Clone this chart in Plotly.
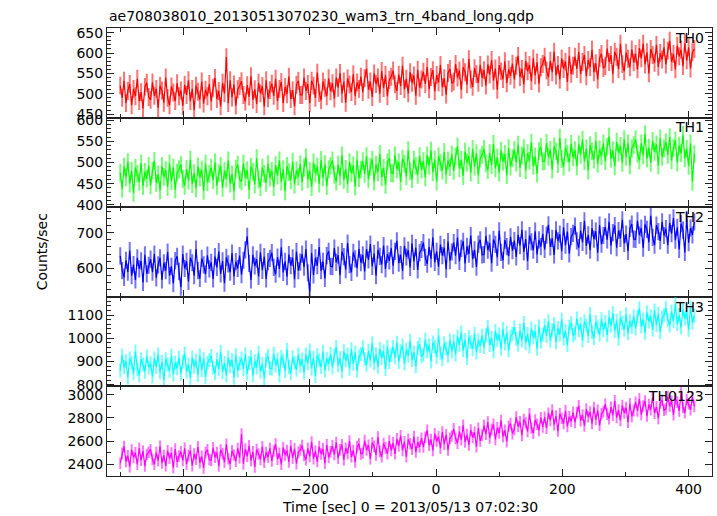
import numpy as np
import plotly.graph_objects as go
from plotly.subplots import make_subplots

# Time bins (sec from 2013/05/13 07:02:30)
T_START = -500
T_STEP = 3
N_BINS = 304

# Count rates (counts/sec)
th0 = [
    520, 490, 532, 477, 507, 524, 472, 512, 494, 537, 482, 504, 464, 517, 527, 492,
    485, 528, 495, 512, 465, 520, 508, 478, 540, 490, 472, 518, 503, 482, 526, 494,
    508, 470, 522, 497, 533, 482, 512, 460, 520, 505, 486, 530, 476, 510, 494, 524,
    481, 515, 539, 487, 507, 469, 527, 501, 590, 477, 533, 491, 523, 471, 511, 519,
    531, 497, 481, 521, 493, 543, 485, 511, 475, 527, 501, 519, 469, 533, 489, 509,
    525, 495, 537, 482, 512, 529, 477, 517, 499, 542, 487, 509, 469, 522, 532, 497,
    497, 540, 507, 524, 477, 532, 520, 490, 552, 502, 484, 530, 515, 494, 538, 506,
    526, 488, 540, 515, 551, 500, 530, 478, 538, 523, 504, 548, 494, 528, 512, 542,
    504, 538, 562, 510, 530, 492, 550, 524, 540, 500, 556, 514, 546, 494, 534, 542,
    557, 523, 507, 547, 519, 569, 511, 537, 501, 553, 527, 545, 495, 559, 515, 535,
    554, 524, 566, 511, 541, 558, 506, 546, 528, 571, 516, 538, 498, 551, 561, 526,
    530, 573, 540, 557, 510, 565, 553, 523, 585, 535, 517, 563, 548, 527, 571, 539,
    558, 520, 572, 547, 583, 532, 562, 510, 570, 555, 536, 580, 526, 560, 544, 574,
    535, 569, 593, 541, 561, 523, 581, 555, 571, 531, 587, 545, 577, 525, 565, 573,
    591, 557, 541, 581, 553, 603, 545, 571, 535, 587, 561, 579, 529, 593, 549, 569,
    591, 561, 603, 548, 578, 595, 543, 583, 565, 608, 553, 575, 535, 588, 598, 563,
    568, 611, 578, 595, 548, 603, 591, 561, 623, 573, 555, 601, 586, 565, 609, 577,
    598, 560, 612, 587, 623, 572, 602, 550, 610, 595, 576, 620, 566, 600, 584, 614,
    572, 606, 630, 578, 598, 560, 618, 592, 608, 568, 624, 582, 614, 562, 602, 610,
]
th1 = [
    476, 438, 490, 465, 501, 450, 480, 428, 488, 473, 454, 498, 444, 478, 462, 492,
    446, 480, 504, 452, 472, 434, 492, 466, 482, 442, 498, 456, 488, 436, 476, 484,
    495, 461, 445, 485, 457, 507, 449, 475, 439, 491, 465, 483, 433, 497, 453, 473,
    488, 458, 500, 445, 475, 492, 440, 480, 462, 505, 450, 472, 432, 485, 495, 460,
    455, 498, 465, 482, 435, 490, 478, 448, 510, 460, 442, 488, 473, 452, 496, 464,
    480, 442, 494, 469, 505, 454, 484, 432, 492, 477, 458, 502, 448, 482, 466, 496,
    454, 488, 512, 460, 480, 442, 500, 474, 490, 450, 506, 464, 496, 444, 484, 492,
    505, 471, 455, 495, 467, 517, 459, 485, 449, 501, 475, 493, 443, 507, 463, 483,
    503, 473, 515, 460, 490, 507, 455, 495, 477, 520, 465, 487, 447, 500, 510, 475,
    474, 517, 484, 501, 454, 509, 497, 467, 529, 479, 461, 507, 492, 471, 515, 483,
    503, 465, 517, 492, 528, 477, 507, 455, 515, 500, 481, 525, 471, 505, 489, 519,
    480, 514, 538, 486, 506, 468, 526, 500, 516, 476, 532, 490, 522, 470, 510, 518,
    532, 498, 482, 522, 494, 544, 486, 512, 476, 528, 502, 520, 470, 534, 490, 510,
    530, 500, 542, 487, 517, 534, 482, 522, 504, 547, 492, 514, 474, 527, 537, 502,
    503, 546, 513, 530, 483, 538, 526, 496, 558, 508, 490, 536, 521, 500, 544, 512,
    529, 491, 543, 518, 554, 503, 533, 481, 541, 526, 507, 551, 497, 531, 515, 545,
    503, 537, 561, 509, 529, 491, 549, 523, 539, 499, 555, 513, 545, 493, 533, 541,
    555, 521, 505, 545, 517, 567, 509, 535, 499, 551, 525, 543, 493, 557, 513, 533,
    548, 518, 560, 505, 535, 552, 500, 540, 522, 565, 510, 532, 492, 545, 455, 520,
]
th2 = [
    635, 594, 575, 623, 590, 650, 580, 611, 568, 630, 599, 621, 561, 638, 585, 609,
    626, 590, 640, 574, 610, 630, 568, 616, 594, 646, 580, 606, 558, 622, 634, 592,
    548, 640, 600, 620, 564, 630, 616, 580, 654, 594, 572, 628, 610, 584, 637, 599,
    617, 571, 633, 603, 647, 585, 621, 559, 631, 613, 590, 643, 578, 619, 600, 636,
    583, 623, 652, 690, 614, 568, 638, 607, 626, 578, 645, 595, 633, 571, 619, 628,
    644, 603, 584, 632, 599, 659, 589, 620, 577, 639, 608, 630, 570, 647, 594, 618,
    640, 604, 654, 588, 535, 644, 582, 630, 608, 660, 594, 620, 572, 636, 648, 606,
    605, 657, 617, 637, 581, 647, 633, 597, 671, 611, 589, 645, 627, 601, 654, 616,
    638, 592, 654, 624, 668, 606, 642, 580, 652, 634, 611, 664, 599, 640, 621, 657,
    608, 648, 677, 615, 639, 593, 663, 632, 651, 603, 670, 620, 658, 596, 644, 653,
    672, 631, 612, 660, 627, 687, 617, 648, 605, 667, 636, 658, 598, 675, 622, 646,
    672, 636, 686, 620, 656, 676, 614, 662, 640, 692, 626, 652, 604, 668, 680, 638,
    639, 691, 651, 671, 615, 681, 667, 631, 705, 645, 623, 679, 661, 635, 688, 650,
    678, 632, 694, 664, 708, 646, 682, 620, 692, 674, 651, 704, 639, 680, 661, 697,
    653, 693, 722, 660, 684, 638, 708, 677, 696, 648, 715, 665, 703, 641, 689, 698,
    718, 677, 658, 706, 673, 733, 663, 694, 651, 713, 682, 704, 644, 721, 668, 692,
    716, 680, 730, 664, 700, 720, 658, 706, 684, 736, 670, 696, 648, 712, 724, 682,
    681, 733, 693, 713, 657, 723, 709, 673, 747, 687, 665, 721, 703, 677, 730, 692,
    711, 665, 727, 697, 741, 679, 715, 653, 725, 707, 645, 737, 672, 713, 694, 730,
]
th3 = [
    861, 925, 875, 901, 831, 913, 895, 850, 943, 868, 841, 910, 887, 856, 922, 874,
    892, 835, 913, 876, 930, 853, 898, 820, 910, 888, 859, 925, 844, 895, 871, 916,
    848, 899, 935, 857, 887, 830, 917, 878, 902, 842, 926, 863, 911, 833, 893, 905,
    924, 873, 849, 909, 867, 942, 855, 894, 840, 918, 879, 906, 831, 927, 861, 891,
    913, 868, 931, 848, 894, 919, 841, 901, 874, 938, 856, 889, 829, 908, 924, 871,
    869, 933, 883, 909, 839, 921, 903, 858, 951, 876, 849, 918, 895, 864, 930, 882,
    909, 852, 930, 893, 947, 870, 915, 837, 927, 905, 876, 942, 861, 912, 888, 933,
    875, 926, 962, 884, 914, 857, 944, 905, 929, 869, 953, 890, 938, 860, 920, 932,
    961, 910, 886, 946, 904, 979, 892, 931, 877, 955, 916, 943, 868, 964, 898, 928,
    963, 918, 981, 898, 944, 969, 891, 951, 924, 988, 906, 939, 879, 958, 974, 921,
    930, 994, 944, 970, 900, 982, 964, 919, 1012, 937, 910, 979, 956, 925, 991, 943,
    987, 930, 1008, 971, 1025, 948, 993, 915, 1005, 983, 954, 1020, 939, 990, 966, 1011,
    962, 1013, 1049, 971, 1001, 944, 1031, 992, 1016, 956, 1040, 977, 1025, 947, 1007, 1019,
    1048, 997, 973, 1033, 991, 1066, 979, 1018, 964, 1042, 1003, 1030, 955, 1051, 985, 1015,
    1055, 1010, 1073, 990, 1036, 1061, 983, 1043, 1016, 1080, 998, 1031, 971, 1050, 1066, 1013,
    1021, 1085, 1035, 1061, 991, 1073, 1055, 1010, 1103, 1028, 1001, 1070, 1047, 1016, 1082, 1034,
    1070, 1013, 1091, 1054, 1108, 1031, 1076, 998, 1088, 1066, 1037, 1103, 1022, 1073, 1049, 1094,
    1042, 1093, 1129, 1051, 1081, 1024, 1111, 1072, 1096, 1036, 1120, 1057, 1105, 1027, 1087, 1099,
    1130, 1079, 1055, 1115, 1073, 1148, 1061, 1100, 1046, 1124, 1085, 1112, 1037, 1133, 1067, 1097,
]
th0123 = [
    2408, 2493, 2553, 2423, 2473, 2378, 2523, 2458, 2498, 2398, 2538, 2433, 2513, 2383, 2483, 2503,
    2525, 2440, 2400, 2500, 2430, 2555, 2410, 2475, 2385, 2515, 2450, 2495, 2370, 2530, 2420, 2470,
    2507, 2432, 2537, 2400, 2474, 2517, 2387, 2487, 2442, 2550, 2412, 2467, 2367, 2500, 2524, 2437,
    2433, 2541, 2459, 2501, 2383, 2521, 2491, 2416, 2571, 2446, 2401, 2516, 2479, 2426, 2536, 2456,
    2660, 2401, 2531, 2468, 2558, 2431, 2506, 2376, 2526, 2488, 2441, 2551, 2416, 2501, 2461, 2536,
    2428, 2513, 2573, 2443, 2493, 2398, 2543, 2478, 2518, 2418, 2558, 2453, 2533, 2403, 2503, 2523,
    2562, 2477, 2437, 2537, 2467, 2592, 2447, 2512, 2422, 2552, 2487, 2532, 2407, 2567, 2457, 2507,
    2558, 2483, 2588, 2451, 2525, 2568, 2438, 2538, 2493, 2601, 2463, 2518, 2418, 2551, 2575, 2488,
    2496, 2604, 2522, 2564, 2446, 2584, 2554, 2479, 2634, 2509, 2464, 2579, 2542, 2489, 2599, 2519,
    2584, 2489, 2619, 2556, 2646, 2519, 2594, 2464, 2614, 2576, 2529, 2639, 2504, 2589, 2549, 2624,
    2548, 2633, 2693, 2563, 2613, 2518, 2663, 2598, 2638, 2538, 2678, 2573, 2653, 2523, 2623, 2643,
    2706, 2621, 2581, 2681, 2611, 2736, 2591, 2656, 2566, 2696, 2631, 2676, 2551, 2711, 2601, 2651,
    2734, 2659, 2764, 2627, 2701, 2744, 2614, 2714, 2669, 2777, 2639, 2694, 2594, 2727, 2751, 2664,
    2699, 2807, 2725, 2767, 2649, 2787, 2757, 2682, 2837, 2712, 2667, 2782, 2745, 2692, 2802, 2722,
    2806, 2711, 2841, 2778, 2868, 2741, 2816, 2686, 2836, 2798, 2751, 2861, 2726, 2811, 2771, 2846,
    2761, 2846, 2906, 2776, 2826, 2731, 2876, 2811, 2851, 2751, 2891, 2786, 2866, 2736, 2836, 2856,
    2918, 2833, 2793, 2893, 2823, 2948, 2803, 2868, 2778, 2908, 2843, 2888, 2763, 2923, 2813, 2863,
    2936, 2861, 2966, 2829, 2903, 2946, 2816, 2916, 2871, 2979, 2841, 2896, 2796, 2929, 2953, 2866,
    2877, 2985, 2903, 2945, 2827, 2965, 2935, 2860, 3015, 2890, 2845, 2960, 2923, 2870, 2980, 2900,
]

# Typical 1-sigma error per band (counts/sec)
errors = [22, 21, 24, 30, 50]
band_names = ["TH0", "TH1", "TH2", "TH3", "TH0123"]
colors = ["#ff0000", "#00ff00", "#0000ff", "#00ffff", "#ff00ff"]
light_colors = ["rgba(255,0,0,0.55)", "rgba(0,255,0,0.55)", "rgba(0,0,255,0.55)",
                "rgba(0,255,255,0.55)", "rgba(255,0,255,0.55)"]
y_ranges = [[441.5, 661.5], [394.4, 606], [521, 771], [792.7, 1178.5], [2297, 3073]]
y_dticks = [50, 50, 100, 100, 200]
y_minor = [10, 10, 20, 20, 100]
x_range = [-521, 437]

title_text = "ae708038010_20130513070230_wam3_trn_4band_long.qdp"
x_title = "Time [sec] 0 = 2013/05/13 07:02:30"
y_title = "Counts/sec"

times = T_START + T_STEP * np.arange(N_BINS)
series = [th0, th1, th2, th3, th0123]

FONT = "DejaVu Sans"
AX = "#222222"
fig = make_subplots(rows=5, cols=1, shared_xaxes=False, vertical_spacing=0)

for i, vals in enumerate(series):
    fig.add_trace(go.Scatter(
        x=times, y=vals, mode="lines",
        line=dict(color=colors[i], width=1.2),
        error_y=dict(type="constant", value=errors[i], color=light_colors[i],
                     thickness=2, width=0),
        showlegend=False, hoverinfo="skip"), row=i + 1, col=1)
    fig.update_yaxes(
        range=y_ranges[i], dtick=y_dticks[i], tick0=0,
        ticks="inside", ticklen=7, tickwidth=1, tickcolor=AX,
        minor=dict(dtick=y_minor[i], tick0=0, ticks="inside", ticklen=4,
                   tickcolor=AX, showgrid=False),
        showline=True, linecolor=AX, linewidth=1, mirror="ticks",
        showgrid=False, zeroline=False, automargin=False,
        tickfont=dict(family=FONT, size=14, color="black"),
        row=i + 1, col=1)
    fig.update_xaxes(
        range=x_range, dtick=200, tick0=0,
        ticks="inside", ticklen=7, tickwidth=1, tickcolor=AX,
        minor=dict(dtick=100, tick0=0, ticks="inside", ticklen=4,
                   tickcolor=AX, showgrid=False),
        showline=True, linecolor=AX, linewidth=1, mirror="ticks",
        showgrid=False, zeroline=False, automargin=False,
        showticklabels=(i == 4),
        tickfont=dict(family=FONT, size=14, color="black"),
        row=i + 1, col=1)

# panel labels
for i, name in enumerate(band_names):
    top = 1 - 0.2 * i
    fig.add_annotation(text=name, xref="paper", yref="paper",
                       x=0.99, y=top - 0.022, xanchor="right", yanchor="middle",
                       showarrow=False, font=dict(family=FONT, size=14, color="black"))

fig.add_annotation(text=title_text, xref="paper", yref="paper", x=0, y=1.027,
                   xanchor="left", yanchor="middle", showarrow=False,
                   font=dict(family=FONT, size=14, color="black"))
fig.add_annotation(text=x_title, xref="paper", yref="paper", x=0.5, y=-0.069,
                   xanchor="center", yanchor="middle", showarrow=False,
                   font=dict(family=FONT, size=14, color="black"))
fig.add_annotation(text=y_title, xref="paper", yref="paper", x=-0.107, y=0.5,
                   xanchor="center", yanchor="middle", textangle=-90, showarrow=False,
                   font=dict(family=FONT, size=14, color="black"))

fig.update_layout(width=717, height=516,
                  margin=dict(l=107, r=5, t=28, b=40),
                  paper_bgcolor="white", plot_bgcolor="white")
fig.write_html("out.html", config={"displayModeBar": False},
               post_script="document.body.style.margin='0px';document.body.style.padding='0px';")
